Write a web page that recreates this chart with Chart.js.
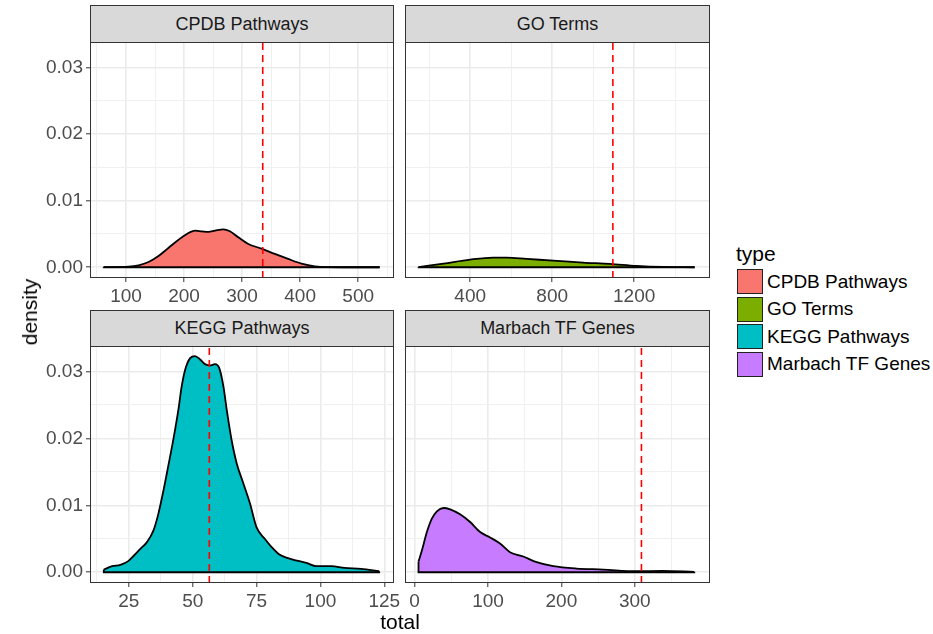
<!DOCTYPE html>
<html>
<head>
<meta charset="utf-8">
<script src="https://cdn.jsdelivr.net/npm/chart.js@4.4.1/dist/chart.umd.min.js"></script>
<style>
html, body { margin: 0; padding: 0; background: #ffffff; }
#wrap { position: relative; width: 933px; height: 634px; overflow: hidden; font-family: "Liberation Sans", Arial, Helvetica, sans-serif; }
#wrap canvas { position: absolute; }
.strip { position: absolute; box-sizing: border-box; background: #D9D9D9; border: 1px solid #333333; color: #1A1A1A; font-size: 18px; display: flex; align-items: center; justify-content: center; white-space: nowrap; }
.title { position: absolute; color: #000000; font-size: 21px; white-space: nowrap; }
.legTitle { position: absolute; left: 736px; top: 242px; font-size: 21px; color: #000; }
.key { position: absolute; left: 737px; width: 26px; height: 25px; box-sizing: border-box; border: 1.5px solid #222; }
.keyLab { position: absolute; left: 767px; font-size: 19px; color: #000; white-space: nowrap; line-height: 20px; }
</style>
</head>
<body>
<div id="wrap">
  <canvas id="c0" width="405" height="312" style="left:0px;top:0px;"></canvas>
  <canvas id="c1" width="406" height="312" style="left:315px;top:0px;"></canvas>
  <canvas id="c2" width="405" height="334" style="left:0px;top:300px;"></canvas>
  <canvas id="c3" width="406" height="334" style="left:315px;top:300px;"></canvas>

  <div class="strip" id="s0" style="left:90px;top:5px;width:304px;height:38px;"></div>
  <div class="strip" id="s1" style="left:405px;top:5px;width:305px;height:38px;"></div>
  <div class="strip" id="s2" style="left:90px;top:310px;width:304px;height:37px;"></div>
  <div class="strip" id="s3" style="left:405px;top:310px;width:305px;height:37px;"></div>

  <div class="title" id="yTitle" style="left:30px;top:312px;transform:translate(-50%,-50%) rotate(-90deg);">density</div>
  <div class="title" id="xTitle" style="left:400px;top:622px;transform:translate(-50%,-50%);">total</div>

  <div class="legTitle" id="legTitle">type</div>
  <div id="legend"></div>
</div>
<script>
// ---------------- data ----------------
const panelNames = ['CPDB Pathways', 'GO Terms', 'KEGG Pathways', 'Marbach TF Genes'];
const fillColors = ['#F8766D', '#7CAE00', '#00BFC4', '#C77CFF'];
const legendTitle = 'type';
const xAxisTitle = 'total';
const yAxisTitle = 'density';

const cpdbTotal   = [61.5, 104.5, 121.6, 138.8, 156, 173, 190, 204.8, 219, 230.5, 242, 253.4, 267.7, 279, 293.5, 310.7, 333.6, 356.5, 379.4, 402.4, 425.3, 448, 490, 537];
const cpdbDensity = [0.00002, 0.0001, 0.0003, 0.0008, 0.0017, 0.0029, 0.0041, 0.0050, 0.0055, 0.0054, 0.0053, 0.0055, 0.0057, 0.0054, 0.0045, 0.0035, 0.0028, 0.0020, 0.00125, 0.00055, 0.00015, 0.00003, 0.000005, 0.0];

const goTotal   = [148, 270, 400, 513, 578, 676, 805, 951, 1081, 1211, 1341, 1495];
const goDensity = [0.00002, 0.00055, 0.00115, 0.00145, 0.00145, 0.00125, 0.0010, 0.0007, 0.0005, 0.0002, 0.00004, 0.0];

const keggTotal   = [15.2, 18.5, 21.7, 24.9, 27, 29.5, 32.1, 34.7, 36.6, 38.6, 40.5, 42.5, 44.4, 45.7, 47, 49, 50.9, 52.9, 54.8, 56.8, 58.7, 60.4, 62, 63.5, 65.2, 67.2, 69.8, 72.4, 75, 78.2, 80.8, 84.1, 87.3, 91.2, 94.5, 98.4, 104.2, 109.4, 115.9, 123];
const keggDensity = [0.0004, 0.0009, 0.0011, 0.0017, 0.0025, 0.0035, 0.0045, 0.0063, 0.0088, 0.0123, 0.0160, 0.0200, 0.0243, 0.0278, 0.0302, 0.0320, 0.0323, 0.0318, 0.0311, 0.0309, 0.0311, 0.0305, 0.0278, 0.0238, 0.0198, 0.0163, 0.0133, 0.0103, 0.0067, 0.0050, 0.0038, 0.0026, 0.0021, 0.0017, 0.0014, 0.0009, 0.0009, 0.00065, 0.0005, 0.00015];

const marbachTotal   = [5.4, 10, 16.8, 23.6, 30.4, 39.4, 48.5, 62, 75.7, 89.3, 102.9, 116.4, 130, 148, 166.3, 188.9, 220.6, 256.8, 302, 338, 381];
const marbachDensity = [0.0016, 0.00325, 0.0060, 0.0080, 0.0091, 0.0096, 0.0094, 0.00865, 0.0075, 0.0060, 0.0052, 0.0043, 0.0030, 0.00235, 0.0015, 0.0009, 0.00055, 0.0004, 0.00015, 0.0002, 0.00005];

const refLines = [335.6, 1096, 56.5, 309];

const densityTicks      = [0, 0.01, 0.02, 0.03];
const densityTickLabels = ['0.00', '0.01', '0.02', '0.03'];
const densityMinorTicks = [0.005, 0.015, 0.025];

const cpdbTicks = [100, 200, 300, 400, 500];
const cpdbTickLabels = ['100', '200', '300', '400', '500'];
const cpdbMinorTicks = [50, 150, 250, 350, 450, 550];
const goTicks = [400, 800, 1200];
const goTickLabels = ['400', '800', '1200'];
const goMinorTicks = [200, 600, 1000, 1400];
const keggTicks = [25, 50, 75, 100, 125];
const keggTickLabels = ['25', '50', '75', '100', '125'];
const keggMinorTicks = [12.5, 37.5, 62.5, 87.5, 112.5];
const marbachTicks = [0, 100, 200, 300];
const marbachTickLabels = ['0', '100', '200', '300'];
const marbachMinorTicks = [50, 150, 250, 350];

// ---------------- layout / style ----------------
const FONT = '"Liberation Sans", Arial, Helvetica, sans-serif';
const yLimits = [-0.00161, 0.03381];

const panels = [
  { id: 'c0', xs: cpdbTotal, ys: cpdbDensity, ticks: cpdbTicks, labels: cpdbTickLabels, minor: cpdbMinorTicks, xlim: [38, 560], showY: true, pad: { top: 42, bottom: 4, right: 12 } },
  { id: 'c1', xs: goTotal, ys: goDensity, ticks: goTicks, labels: goTickLabels, minor: goMinorTicks, xlim: [82, 1565], showY: false, pad: { top: 42, bottom: 4, right: 12 } },
  { id: 'c2', xs: keggTotal, ys: keggDensity, ticks: keggTicks, labels: keggTickLabels, minor: keggMinorTicks, xlim: [9.8, 128.4], showY: true, pad: { top: 46, bottom: 21, right: 12 } },
  { id: 'c3', xs: marbachTotal, ys: marbachDensity, ticks: marbachTicks, labels: marbachTickLabels, minor: marbachMinorTicks, xlim: [-13, 401], showY: false, pad: { top: 46, bottom: 21, right: 12 } }
];

function buildTicks(major, labels, minor) {
  const arr = major.map((v, i) => ({ value: v, minor: false, text: labels[i] }))
    .concat(minor.map(v => ({ value: v, minor: true, text: '' })));
  arr.sort((a, b) => a.value - b.value);
  return arr;
}

const panelBorder = {
  id: 'panelBorder',
  afterDraw(chart) {
    const a = chart.chartArea, ctx = chart.ctx;
    ctx.save();
    ctx.strokeStyle = '#333333';
    ctx.lineWidth = 1;
    ctx.strokeRect(a.left + 0.5, a.top + 0.5, a.right - a.left, a.bottom - a.top - 1);
    ctx.restore();
  }
};

function isMinor(c) { return c.tick && c.tick.minor; }

panels.forEach((p, k) => {
  document.getElementById('s' + k).textContent = panelNames[k];
  const n = p.xs.length;
  const curve = p.xs.map((x, i) => ({ x: x, y: p.ys[i] }));
  const base = [
    { x: p.xs[0], y: p.ys[0] }, { x: p.xs[0], y: 0 },
    { x: p.xs[n - 1], y: 0 }, { x: p.xs[n - 1], y: p.ys[n - 1] }
  ];
  const vline = [{ x: refLines[k], y: yLimits[0] }, { x: refLines[k], y: yLimits[1] }];
  const xTicks = buildTicks(p.ticks, p.labels, p.minor);
  const yTicks = buildTicks(densityTicks, densityTickLabels, densityMinorTicks);

  new Chart(document.getElementById(p.id), {
    type: 'line',
    data: {
      datasets: [
        { label: 'ref', data: vline, order: 0, borderColor: '#FF0000', borderWidth: 1.6, borderDash: [7, 5], pointRadius: 0, fill: false, tension: 0 },
        { label: 'base', data: base, order: 1, borderColor: '#000000', borderWidth: 1.8, pointRadius: 0, fill: false, tension: 0 },
        { label: panelNames[k], data: curve, order: 2, borderColor: '#000000', borderWidth: 1.8, backgroundColor: fillColors[k], fill: 'origin', pointRadius: 0, cubicInterpolationMode: 'monotone' }
      ]
    },
    options: {
      responsive: false,
      animation: false,
      devicePixelRatio: 1,
      events: [],
      layout: { padding: { left: 0, top: p.pad.top, right: p.pad.right, bottom: p.pad.bottom } },
      plugins: { legend: { display: false }, tooltip: { enabled: false }, title: { display: false } },
      scales: {
        x: {
          type: 'linear', min: p.xlim[0], max: p.xlim[1],
          afterBuildTicks: s => { s.ticks = xTicks.map(t => Object.assign({}, t)); },
          afterFit: s => { s.height = 30; s.paddingLeft = 0; s.paddingRight = 0; },
          ticks: {
            autoSkip: false, maxRotation: 0, minRotation: 0, padding: 3, color: '#4D4D4D',
            font: { family: FONT, size: 19 },
            callback: (v, i, t) => t[i].text
          },
          grid: {
            color: c => isMinor(c) ? '#F0F0F0' : '#EBEBEB',
            lineWidth: c => isMinor(c) ? 1 : 1.6,
            tickColor: c => isMinor(c) ? 'rgba(0,0,0,0)' : '#333333',
            tickWidth: 1,
            tickLength: 4,
            drawTicks: true
          },
          border: { display: false }
        },
        y: {
          type: 'linear', min: yLimits[0], max: yLimits[1],
          afterBuildTicks: s => { s.ticks = yTicks.map(t => Object.assign({}, t)); },
          afterFit: s => { s.width = 90; s.paddingTop = 0; s.paddingBottom = 0; },
          ticks: {
            display: p.showY, autoSkip: false, padding: 3, color: '#4D4D4D',
            font: { family: FONT, size: 19 },
            callback: (v, i, t) => t[i].text
          },
          grid: {
            color: c => isMinor(c) ? '#F0F0F0' : '#EBEBEB',
            lineWidth: c => isMinor(c) ? 1 : 1.6,
            tickColor: c => (isMinor(c) || !p.showY) ? 'rgba(0,0,0,0)' : '#333333',
            tickWidth: 1,
            tickLength: 4,
            drawTicks: true
          },
          border: { display: false }
        }
      }
    },
    plugins: [panelBorder]
  });
});

// legend & titles
document.getElementById('legTitle').textContent = legendTitle;
document.getElementById('xTitle').textContent = xAxisTitle;
document.getElementById('yTitle').textContent = yAxisTitle;
const leg = document.getElementById('legend');
panelNames.forEach((name, i) => {
  const top = 269 + i * 27.6;
  const key = document.createElement('div');
  key.className = 'key';
  key.style.top = top + 'px';
  key.style.background = fillColors[i];
  leg.appendChild(key);
  const lab = document.createElement('div');
  lab.className = 'keyLab';
  lab.style.top = (top + 2.5) + 'px';
  lab.textContent = name;
  leg.appendChild(lab);
});
</script>
</body>
</html>
